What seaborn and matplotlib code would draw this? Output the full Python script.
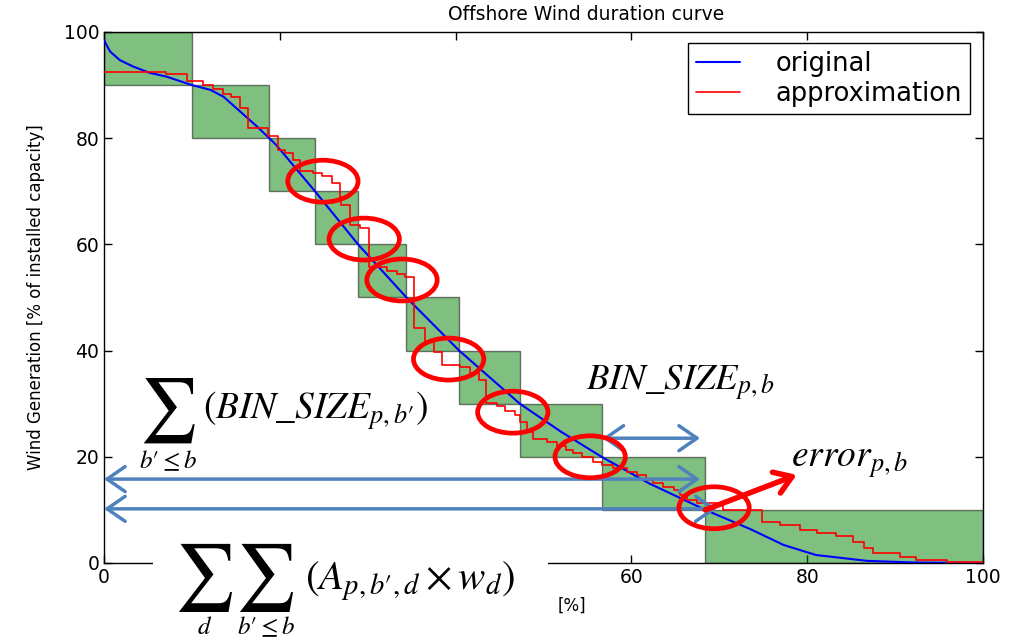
import numpy as np
import pandas as pd
import matplotlib
matplotlib.use('Agg')
import matplotlib.pyplot as plt
import seaborn as sns
from matplotlib.patches import Rectangle, Ellipse

# --- data ---
# duration bins: x edges and the generation levels between them
bin_edges = [0, 10, 18.8, 24, 28.9, 34.4, 40.4, 47.3, 56.6, 68.4, 100]
bin_levels = [100, 90, 80, 70, 60, 50, 40, 30, 20, 10, 0]

# original duration curve
orig_x = [0, 0.3, 0.7, 1.8, 3.3, 5.2, 7.1, 10, 12.1, 13.6, 15.5, 17.4, 18.8, 19.6,
          24, 28.9, 34.4, 40.4, 47.3, 52, 56.6, 62, 68.4, 73.5, 77.3, 81, 86.8, 92, 100]
orig_y = [98.5, 97.5, 96.3, 94.7, 93.5, 92.3, 91.6, 90, 89.1, 87.8, 85.0, 82.2, 80, 78.7,
          70, 60, 50, 40, 30, 24.7, 20, 15.0, 10, 6.4, 3.4, 1.5, 0.4, 0.1, 0]

# step approximation (start of each step, level)
approx_x = [0, 7.1, 9.4, 11.3, 12.4, 13.5, 14.5, 15.5, 16.4, 18.6, 19.8, 20.6, 21.5,
            22.3, 23.8, 24.8, 25.9, 26.8, 27.0, 28.0, 29.1, 30.1, 32.2, 33.3, 34.2,
            35.3, 36.5, 37.5, 38.4, 40.5, 41.6, 42.6, 43.5, 44.7, 45.6, 46.8, 47.3,
            48.1, 48.8, 50.4, 51.5, 52.6, 53.4, 54.4, 55.6, 56.6, 57.9, 59.5, 60.6,
            61.7, 62.5, 63.6, 64.8, 65.5, 66.3, 67.4, 70.4, 74.8, 76.9, 79.2, 81.1,
            83.3, 85.2, 86.4, 87.5, 90.6, 92.4, 95.9, 100]
approx_y = [92.4, 92.0, 90.8, 90.0, 89.2, 88.4, 87.8, 85.6, 81.9, 80.5, 77.8, 77.3, 75.9,
            73.8, 73.4, 72.8, 71.5, 69.0, 67.4, 63.7, 63.0, 55.8, 54.9, 54.4, 53.9,
            44.2, 41.7, 39.8, 37.3, 37.0, 35.8, 34.5, 30.2, 29.6, 28.7, 27.9, 26.6,
            24.7, 23.3, 22.7, 22.1, 21.3, 20.7, 20.0, 19.1, 18.5, 17.8, 17.2, 16.6,
            15.6, 15.0, 14.4, 13.7, 12.8, 11.9, 11.3, 10.0, 7.8, 7.2, 6.3, 5.7,
            5.0, 4.0, 2.8, 1.8, 1.2, 0.6, 0.1, 0.1]

# circled error spots
err_x = [24.9, 29.6, 33.9, 39.2, 46.5, 55.3, 69.4]
err_y = [71.9, 61.0, 53.3, 38.4, 28.4, 20.0, 10.4]

ticks = [0, 20, 40, 60, 80, 100]
# 20 and 40 are hidden under the formula in the picture
xtick_labels = ['0', '', '', '60', '80', '100']

sns.set_theme(style='ticks')
plt.rcParams['font.family'] = ['DejaVu Sans']
plt.rcParams['mathtext.fontset'] = 'stix'
plt.rcParams.update({'xtick.direction': 'in', 'ytick.direction': 'in',
                     'xtick.top': True, 'ytick.right': True,
                     'axes.edgecolor': 'black', 'xtick.color': 'black',
                     'ytick.color': 'black', 'text.color': 'black',
                     'axes.labelcolor': 'black'})

W, H = 1014, 641
fig = plt.figure(figsize=(W / 100, H / 100), dpi=100)
ax = fig.add_axes([0.1026, 0.1217, 0.8669, 0.8284])


def ftext(px, py, s, size, **kw):
    # overlay text placed in picture pixels
    return fig.text(px / W, 1 - py / H, s, fontsize=size, ha='center', va='center', **kw)


# green bins
for i in range(len(bin_edges) - 1):
    ax.add_patch(Rectangle((bin_edges[i], bin_levels[i + 1]),
                           bin_edges[i + 1] - bin_edges[i],
                           bin_levels[i] - bin_levels[i + 1],
                           fc='green', ec='black', alpha=0.5, lw=1, zorder=1))

df_orig = pd.DataFrame({'x': orig_x, 'y': orig_y})
df_appr = pd.DataFrame({'x': approx_x, 'y': approx_y})
sns.lineplot(data=df_orig, x='x', y='y', color='blue', lw=1.5, label='original',
             ax=ax, estimator=None, zorder=3)
sns.lineplot(data=df_appr, x='x', y='y', color='red', lw=1.2, drawstyle='steps-post',
             label='approximation', ax=ax, estimator=None, zorder=3)

# red circles
for cx, cy in zip(err_x, err_y):
    ax.add_patch(Ellipse((cx, cy), width=8.0, height=7.9, fill=False, ec='red',
                         lw=3.4, zorder=5))

ax.set_xlim(0, 100)
ax.set_ylim(0, 100)
ax.set_xticks(ticks)
ax.set_xticklabels(xtick_labels)
ax.set_yticks(ticks)
ax.tick_params(labelsize=13.5, length=6, width=1)
for s in ax.spines.values():
    s.set_linewidth(1)
ax.set_xlabel('[%]', fontsize=12)
ax.xaxis.set_label_coords(0.532, -0.064)
ax.set_ylabel('Wind Generation [% of installed capacity]', fontsize=12)
ax.yaxis.set_label_coords(-0.067, 0.5)

leg = ax.legend(loc='upper right', bbox_to_anchor=(0.985, 0.979), fontsize=18.5,
                frameon=True, fancybox=False, edgecolor='black', framealpha=1,
                borderaxespad=0, handlelength=1.7, handletextpad=1.4,
                borderpad=0.3, labelspacing=0.15)
leg.get_frame().set_linewidth(1)

# blue arrows
blue = '#4f81bd'
akw = dict(arrowstyle='<->,head_length=0.65,head_width=0.45', color=blue, lw=2.5,
           mutation_scale=20, shrinkA=0, shrinkB=0)
ax.annotate('', xy=(56.7, 23.5), xytext=(67.8, 23.5), arrowprops=akw, annotation_clip=False)
ax.annotate('', xy=(0, 15.8), xytext=(67.8, 15.8), arrowprops=akw, annotation_clip=False)
ax.annotate('', xy=(0, 10.2), xytext=(69.7, 10.2), arrowprops=akw, annotation_clip=False)

# red error arrow
ax.annotate('', xy=(78.8, 16.6), xytext=(68.4, 10.0),
            arrowprops=dict(arrowstyle='->,head_length=0.6,head_width=0.4', color='red',
                            lw=4, mutation_scale=20, shrinkA=0, shrinkB=0),
            annotation_clip=False, zorder=6)

ftext(680, 383, r'$BIN\_SIZE_{p,b}$', 26.5)
ftext(850, 462, r'$error_{p,b}$', 27)

# upper formula
ftext(167, 411, r'$\sum$', 46)
ftext(168, 461, r'$b\prime\leq b$', 18)
ftext(316, 411, r'$\left(BIN\_SIZE_{p,b\prime}\right)$', 27)

# white patch under the bottom formula
fig.add_artist(Rectangle((153 / W, 0), (548 - 153) / W, (H - 538) / H,
                         transform=fig.transFigure, fc='white', ec='none', zorder=2))
ftext(204, 578, r'$\sum$', 48, zorder=3)
ftext(265, 578, r'$\sum$', 48, zorder=3)
ftext(205, 627, r'$d$', 18, zorder=3)
ftext(266, 627, r'$b\prime\leq b$', 18, zorder=3)
ftext(410, 581, r'$\left(A_{p,b\prime,d}\times w_d\right)$', 29.5, zorder=3)

ftext(586, 15, 'Offshore Wind duration curve', 13.5)

fig.savefig('out.png', dpi=100)
